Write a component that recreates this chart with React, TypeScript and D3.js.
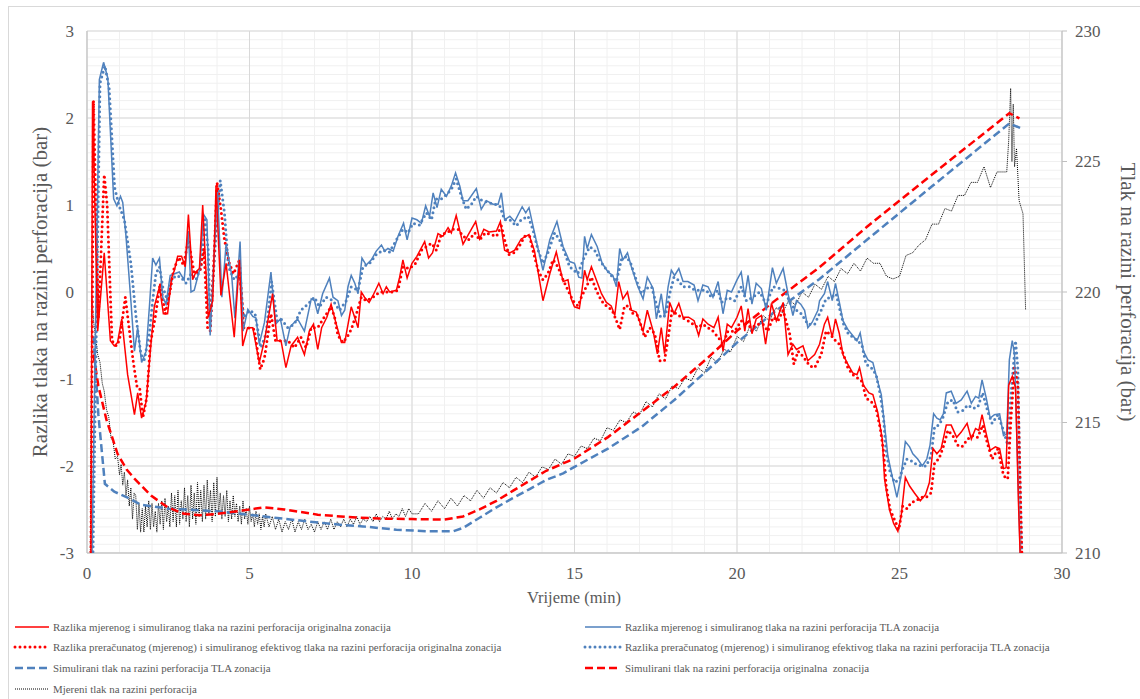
import React from 'react';
import * as d3 from 'd3';

type Pt = [number, number];

// time (min), pressure difference (bar) - left axis
const redSolidDiff: Pt[] = [
  [0.12,-3.1],[0.17,2.19],[0.33,-0.45],[0.53,0.45],[0.72,-0.56],[0.84,-0.62],[0.94,-0.58],[1.07,-0.31],[1.25,-0.95],[1.46,-1.41],[1.56,-1.16],[1.68,-1.45],[1.82,-1.26],[1.94,-0.72],[2.07,-0.17],[2.23,0.06],[2.35,-0.25],[2.48,-0.25],[2.6,0.16],[2.69,0.25],[2.79,0.41],[2.91,0.41],[3.02,0.29],[3.12,0.89],[3.25,0.14],[3.35,0.23],[3.46,0.27],[3.56,1.0],[3.73,-0.29],[3.87,-0.1],[3.97,1.22],[4.12,-0.04],[4.28,0.33],[4.53,-0.52],[4.69,0.37],[4.79,-0.62],[4.94,-0.41],[5.1,-0.41],[5.3,-0.81],[5.46,-0.56],[5.71,-0.02],[5.85,-0.56],[5.97,-0.56],[6.12,-0.87],[6.28,-0.62],[6.48,-0.52],[6.69,-0.72],[6.84,-0.45],[6.97,-0.37],[7.1,-0.66],[7.22,-0.41],[7.38,-0.29],[7.51,-0.14],
  [7.67,-0.37],[7.83,-0.58],[7.93,-0.58],[8.13,-0.17],[8.34,-0.41],[8.44,0],[8.54,-0.06],[8.68,-0.12],[8.8,-0.04],[8.98,0.1],[9.11,-0.02],[9.21,0.06],[9.31,0],[9.52,0.02],[9.62,0.17],[9.72,0.37],[9.85,0.16],[10.0,0.33],[10.15,0.41],[10.39,0.58],[10.51,0.39],[10.63,0.45],[10.8,0.67],[10.95,0.64],[11.11,0.74],[11.21,0.68],[11.36,0.88],[11.57,0.55],[11.72,0.65],[11.96,0.81],[12.08,0.61],[12.21,0.72],[12.37,0.69],[12.6,0.7],[12.72,0.81],[12.85,0.48],[13.01,0.45],[13.16,0.48],[13.36,0.61],[13.6,0.66],[13.77,0.47],[14.03,-0.1],[14.24,0.21],[14.44,0.46],[14.65,0.12],[14.8,0.14],[14.9,-0.08],
  [15.0,-0.17],[15.15,-0.19],[15.23,0.02],[15.31,0.25],[15.39,0.14],[15.52,0.29],[15.67,0.14],[15.83,-0.02],[15.98,-0.12],[16.13,-0.16],[16.24,-0.27],[16.36,0.12],[16.49,-0.08],[16.63,0],[16.75,-0.21],[16.9,-0.23],[17.11,-0.45],[17.24,-0.21],[17.42,-0.45],[17.55,-0.71],[17.67,-0.41],[17.77,-0.71],[17.93,-0.12],[18.06,-0.25],[18.21,-0.13],[18.34,-0.29],[18.51,-0.29],[18.68,-0.33],[18.82,-0.5],[18.95,-0.31],[19.11,-0.37],[19.29,-0.41],[19.42,-0.29],[19.57,-0.68],[19.7,-0.37],[19.83,-0.41],[20.0,-0.29],[20.13,-0.16],[20.24,-0.45],[20.34,-0.19],[20.46,-0.48],[20.59,-0.31],[20.75,-0.27],[20.88,-0.6],[21.06,-0.13],[21.21,-0.33],[21.42,-0.12],[21.57,-0.72],[21.72,-0.6],[21.83,-0.66],[22.03,-0.62],[22.18,-0.79],[22.39,-0.72],
  [22.54,-0.6],[22.69,-0.37],[22.79,-0.29],[22.93,-0.52],[23.03,-0.31],[23.15,-0.48],[23.26,-0.72],[23.41,-0.83],[23.56,-0.93],[23.69,-0.95],[23.77,-0.87],[23.89,-1.07],[24.06,-1.16],[24.18,-1.18],[24.33,-1.38],[24.47,-1.69],[24.54,-2.15],[24.69,-2.5],[24.82,-2.66],[24.95,-2.75],[25.05,-2.58],[25.18,-2.13],[25.31,-2.23],[25.46,-2.31],[25.64,-2.4],[25.8,-2.33],[25.92,-2.19],[26.03,-1.8],[26.15,-1.86],[26.28,-1.8],[26.44,-1.53],[26.59,-1.53],[26.76,-1.67],[26.9,-1.61],[27.08,-1.51],[27.21,-1.69],[27.34,-1.57],[27.44,-1.59],[27.54,-1.41],[27.67,-1.63],[27.79,-1.82],[27.95,-1.78],[28.08,-1.8],[28.2,-2.03],[28.28,-2.02],[28.36,-1.07],[28.47,-0.97],[28.57,-1.1],[28.66,-2.42],[28.72,-3.1],
];

const blueSolidDiff: Pt[] = [
  [0.15,-3.1],[0.38,2.44],[0.51,2.64],[0.64,2.46],[0.82,1.07],[0.92,0.99],[1.03,1.1],[1.1,1.03],[1.2,0.64],[1.35,-0.1],[1.46,-0.68],[1.56,-0.41],[1.68,-0.81],[1.82,-0.68],[1.92,-0.17],[2.02,0.39],[2.12,0.31],[2.23,0.39],[2.33,-0.06],[2.43,-0.14],[2.56,0.19],[2.69,0.21],[2.84,0.23],[2.99,0.14],[3.12,0.7],[3.2,0],[3.3,0.02],[3.46,0.25],[3.59,0.89],[3.69,0.83],[3.79,-0.5],[3.92,0.5],[4.02,1.15],[4.15,-0.06],[4.28,0.55],[4.45,0.2],[4.55,-0.3],[4.71,0.58],[4.8,-0.45],[4.95,-0.2],[5.1,-0.28],[5.2,-0.3],[5.3,-0.6],[5.46,-0.35],[5.66,0.23],[5.8,-0.37],[5.95,-0.31],[6.12,-0.62],[6.25,-0.4],[6.48,-0.31],[6.69,-0.45],[6.9,-0.08],[7.0,-0.1],[7.1,-0.25],[7.25,-0.02],[7.46,0.16],
  [7.57,-0.06],[7.72,-0.1],[7.83,-0.27],[7.93,-0.21],[8.03,0.06],[8.13,0.19],[8.24,0.1],[8.34,-0.02],[8.46,0.39],[8.59,0.31],[8.75,0.37],[8.9,0.47],[9.06,0.54],[9.16,0.47],[9.26,0.5],[9.42,0.47],[9.57,0.64],[9.74,0.79],[9.85,0.6],[10.0,0.85],[10.15,0.83],[10.29,0.79],[10.42,0.99],[10.54,0.87],[10.65,1.14],[10.77,0.97],[10.9,1.18],[11.06,1.1],[11.21,1.22],[11.34,1.37],[11.47,1.22],[11.57,1.05],[11.72,1.05],[11.98,1.19],[12.13,0.95],[12.29,1.05],[12.49,1.01],[12.65,1.01],[12.75,1.14],[12.85,0.83],[13.01,0.87],[13.16,0.81],[13.39,0.98],[13.5,0.91],[13.6,0.97],[13.77,0.68],[14.03,0.25],[14.24,0.6],[14.46,0.81],[14.65,0.52],[14.85,0.35],
  [15.0,0.33],[15.13,0.17],[15.23,0.16],[15.31,0.64],[15.39,0.5],[15.52,0.66],[15.7,0.52],[15.85,0.33],[16.03,0.23],[16.18,0.19],[16.29,0.06],[16.39,0.5],[16.49,0.37],[16.63,0.45],[16.75,0.29],[16.93,0.08],[17.11,-0.08],[17.24,0.17],[17.42,0.04],[17.52,-0.31],[17.67,-0.02],[17.77,-0.29],[17.88,0.06],[17.98,0.25],[18.08,0.19],[18.21,0.27],[18.34,0.12],[18.49,0.12],[18.68,0.08],[18.8,-0.1],[18.95,0.08],[19.11,0.06],[19.26,-0.06],[19.42,0.12],[19.57,-0.25],[19.7,0.02],[19.83,0],[20.0,0.14],[20.13,0.23],[20.24,-0.06],[20.34,0.19],[20.46,-0.14],[20.59,0.1],[20.75,0.04],[20.9,-0.21],[21.09,0.28],[21.21,0.1],[21.42,0.27],[21.57,-0.02],[21.72,-0.27],[21.83,-0.1],[21.96,-0.14],[22.08,-0.21],[22.18,-0.41],[22.31,-0.35],[22.49,-0.21],
  [22.54,-0.1],[22.69,-0.02],[22.79,0.12],[22.93,-0.1],[23.03,0.1],[23.15,-0.12],[23.26,-0.33],[23.41,-0.43],[23.56,-0.5],[23.69,-0.56],[23.79,-0.47],[23.89,-0.68],[24.03,-0.78],[24.18,-0.81],[24.33,-1.03],[24.44,-1.18],[24.54,-1.53],[24.64,-1.88],[24.77,-2.11],[24.92,-2.36],[25.05,-2.11],[25.18,-1.72],[25.31,-1.78],[25.41,-1.86],[25.56,-1.92],[25.7,-2.0],[25.84,-1.92],[25.94,-1.76],[26.05,-1.4],[26.15,-1.45],[26.25,-1.47],[26.35,-1.4],[26.44,-1.16],[26.59,-1.14],[26.74,-1.28],[26.9,-1.24],[27.08,-1.14],[27.21,-1.28],[27.34,-1.2],[27.44,-1.22],[27.54,-1.01],[27.67,-1.22],[27.79,-1.45],[27.92,-1.41],[28.08,-1.4],[28.2,-1.65],[28.3,-1.63],[28.38,-0.78],[28.47,-0.56],[28.54,-0.72],[28.64,-2.03],[28.72,-3.1],
];

const redDottedDiff: Pt[] = [
  [0.12,-3.1],[0.2,2.2],[0.35,-0.3],[0.53,1.35],[0.62,1.0],[0.77,-0.56],[0.9,-0.62],[1.0,-0.55],[1.18,-0.06],[1.33,-0.52],[1.43,-0.82],[1.54,-1.09],[1.62,-1.1],[1.72,-1.44],[1.84,-1.21],[1.95,-0.59],[2.1,-0.29],[2.25,0.1],[2.41,-0.25],[2.56,0.02],[2.66,0.25],[2.82,0.4],[2.97,0.31],[3.12,0.6],[3.3,0.21],[3.48,0.25],[3.6,0.5],[3.71,-0.41],[3.79,-0.45],[3.92,0.48],[4.0,1.26],[4.12,0.95],[4.23,0.6],[4.38,0.33],[4.51,0.21],[4.69,0.37],[4.82,-0.41],[4.94,-0.41],[5.15,-0.43],[5.33,-0.89],[5.46,-0.76],[5.66,-0.25],[5.8,-0.56],[5.97,-0.56],[6.18,-0.56],[6.38,-0.64],[6.58,-0.52],[6.74,-0.64],[6.9,-0.41],[7.1,-0.41],[7.3,-0.29],[7.51,-0.17],
  [7.62,-0.29],[7.72,-0.5],[7.88,-0.58],[8.03,-0.5],[8.13,-0.43],[8.29,-0.25],[8.44,-0.06],[8.59,-0.1],[8.8,-0.06],[9.0,0],[9.21,0],[9.42,0],[9.57,0.02],[9.72,0.29],[9.93,0.27],[10.11,0.33],[10.29,0.48],[10.44,0.52],[10.6,0.56],[10.75,0.48],[10.9,0.66],[11.06,0.68],[11.24,0.72],[11.42,0.72],[11.57,0.64],[11.76,0.6],[11.93,0.68],[12.08,0.6],[12.26,0.68],[12.44,0.66],[12.6,0.64],[12.75,0.76],[12.85,0.6],[12.98,0.43],[13.13,0.45],[13.29,0.52],[13.47,0.64],[13.62,0.64],[13.74,0.45],[13.88,0.25],[14.03,0.14],[14.18,0.21],[14.34,0.37],[14.49,0.29],[14.65,0.14],[14.8,0.02],[14.95,-0.1],
  [15.11,-0.16],[15.21,-0.06],[15.36,0.06],[15.52,0.17],[15.67,0.02],[15.83,-0.1],[15.98,-0.16],[16.16,-0.21],[16.29,-0.33],[16.39,-0.43],[16.54,-0.16],[16.67,-0.16],[16.8,-0.25],[16.95,-0.27],[17.16,-0.52],[17.31,-0.41],[17.47,-0.48],[17.62,-0.79],[17.77,-0.79],[17.9,-0.48],[18.0,-0.21],[18.13,-0.25],[18.29,-0.29],[18.49,-0.33],[18.65,-0.37],[18.8,-0.41],[18.95,-0.37],[19.11,-0.41],[19.26,-0.45],[19.42,-0.52],[19.57,-0.6],[19.72,-0.45],[19.93,-0.45],[20.13,-0.33],[20.29,-0.37],[20.44,-0.41],[20.63,-0.37],[20.8,-0.37],[20.95,-0.45],[21.11,-0.29],[21.26,-0.33],[21.42,-0.21],[21.62,-0.48],[21.75,-0.83],[21.88,-0.68],[22.03,-0.74],[22.24,-0.85],[22.39,-0.87],
  [22.59,-0.72],[22.74,-0.45],[22.9,-0.5],[23.03,-0.56],[23.15,-0.6],[23.28,-0.72],[23.41,-0.87],[23.56,-0.95],[23.72,-0.99],[23.85,-1.03],[23.97,-1.22],[24.13,-1.26],[24.28,-1.34],[24.41,-1.57],[24.51,-1.84],[24.59,-2.23],[24.71,-2.5],[24.85,-2.62],[24.98,-2.73],[25.1,-2.46],[25.23,-2.49],[25.36,-2.42],[25.51,-2.4],[25.67,-2.36],[25.82,-2.36],[25.97,-2.31],[26.08,-1.96],[26.21,-1.92],[26.33,-1.8],[26.49,-1.59],[26.64,-1.65],[26.79,-1.76],[26.92,-1.78],[27.1,-1.69],[27.26,-1.65],[27.41,-1.67],[27.56,-1.53],[27.72,-1.76],[27.85,-1.92],[28.03,-1.8],[28.2,-2.11],[28.33,-2.15],[28.43,-1.45],[28.54,-0.87],[28.64,-1.06],[28.7,-2.03],[28.77,-3.1],
];

const blueDottedDiff: Pt[] = [
  [0.18,-3.1],[0.4,2.4],[0.55,2.6],[0.68,2.35],[0.85,1.2],[0.98,1.0],[1.15,0.83],[1.35,0.33],[1.51,-0.29],[1.66,-0.72],[1.76,-0.78],[1.92,-0.48],[2.02,-0.1],[2.12,0.21],[2.23,0.29],[2.33,0.06],[2.48,-0.1],[2.6,0.14],[2.74,0.19],[2.89,0.17],[3.05,0.1],[3.2,0.21],[3.35,0.14],[3.51,0.29],[3.63,0.83],[3.73,0.48],[3.79,-0.41],[3.97,0.68],[4.1,1.28],[4.23,0.91],[4.35,0.29],[4.53,0.14],[4.69,0.21],[4.82,-0.29],[5.0,-0.21],[5.17,-0.25],[5.35,-0.64],[5.51,-0.48],[5.68,0.12],[5.85,-0.33],[5.97,-0.31],[6.18,-0.41],[6.38,-0.37],[6.58,-0.21],[6.79,-0.14],[7.0,-0.06],[7.15,-0.17],[7.36,-0.06],
  [7.57,-0.1],[7.77,-0.21],[7.98,-0.1],[8.13,0.06],[8.34,0.02],[8.49,0.29],[8.7,0.33],[8.9,0.43],[9.11,0.48],[9.31,0.46],[9.52,0.6],[9.72,0.72],[9.88,0.68],[10.03,0.79],[10.23,0.77],[10.44,0.91],[10.6,0.83],[10.73,1.07],[10.9,1.07],[11.06,1.12],[11.21,1.18],[11.36,1.3],[11.52,1.1],[11.67,0.95],[11.83,1.01],[11.98,1.1],[12.16,1.05],[12.34,1.03],[12.54,1.01],[12.7,0.99],[12.85,0.83],[13.01,0.83],[13.21,0.76],[13.36,0.83],[13.57,0.87],[13.72,0.72],[13.88,0.48],[14.03,0.33],[14.18,0.45],[14.39,0.68],[14.54,0.6],[14.7,0.45],[14.85,0.29],
  [15.1,0.21],[15.31,0.41],[15.47,0.52],[15.62,0.48],[15.77,0.37],[15.92,0.29],[16.13,0.19],[16.29,0.12],[16.44,0.37],[16.6,0.41],[16.73,0.33],[16.9,0.14],[17.06,-0.02],[17.21,0.04],[17.37,0.06],[17.52,-0.14],[17.65,-0.29],[17.8,-0.27],[17.93,-0.02],[18.06,0.17],[18.18,0.14],[18.34,0.06],[18.55,0.06],[18.7,0.02],[18.88,0.02],[19.06,0.02],[19.21,-0.06],[19.42,0.02],[19.52,-0.12],[19.72,-0.06],[19.93,-0.1],[20.13,0.06],[20.29,-0.1],[20.49,-0.06],[20.7,0],[20.9,-0.14],[21.11,0.06],[21.32,0.04],[21.47,0.02],[21.65,-0.14],[21.83,-0.21],[21.98,-0.25],[22.18,-0.37],[22.39,-0.37],
  [22.59,-0.21],[22.74,-0.08],[22.9,-0.06],[23.05,-0.02],[23.17,-0.21],[23.28,-0.37],[23.41,-0.47],[23.56,-0.52],[23.72,-0.56],[23.85,-0.62],[23.97,-0.83],[24.13,-0.87],[24.28,-0.95],[24.41,-1.18],[24.51,-1.45],[24.59,-1.84],[24.71,-2.07],[24.85,-2.19],[25.0,-2.15],[25.1,-2.03],[25.23,-1.92],[25.36,-1.94],[25.51,-1.98],[25.67,-2.0],[25.82,-2.0],[25.97,-1.88],[26.08,-1.55],[26.21,-1.53],[26.33,-1.45],[26.49,-1.26],[26.64,-1.24],[26.79,-1.38],[26.95,-1.36],[27.1,-1.3],[27.26,-1.34],[27.41,-1.32],[27.56,-1.16],[27.72,-1.38],[27.85,-1.51],[28.03,-1.41],[28.18,-1.57],[28.33,-1.76],[28.43,-1.18],[28.57,-0.56],[28.64,-0.87],[28.7,-2.03],[28.77,-3.1],
];

// time (min), pressure (bar) - right axis
const blueDashedSim: Pt[] = [
  [0.2,218.3],[0.35,215.3],[0.55,212.65],[0.84,212.35],[1.25,212.12],[1.66,211.85],[2.5,211.7],[4.0,211.6],[5.03,211.46],[5.85,211.34],[6.87,211.2],[7.9,211.07],[8.49,211.02],[9.52,210.89],[10.54,210.83],[11.26,210.83],[11.57,210.96],[12.08,211.35],[12.6,211.75],[13.1,212.1],[13.62,212.45],[14.13,212.8],[14.65,213.05],[15.0,213.3],[16.03,214.0],[17.06,214.83],[18.08,215.87],[19.11,217.03],[20.0,218.06],[21.16,219.25],[22.54,220.5],[24.0,222.0],[26.0,224.05],[28.38,226.46],[28.74,226.27],
];

const redDashedSim: Pt[] = [
  [0.2,217.6],[0.35,216.4],[0.6,215.1],[0.94,213.8],[1.22,213.2],[1.46,212.85],[1.97,212.2],[2.48,211.75],[2.99,211.5],[3.48,211.45],[4.02,211.5],[4.74,211.62],[5.46,211.75],[6.07,211.67],[7.1,211.47],[8.0,211.38],[9.0,211.32],[10.0,211.3],[11.0,211.28],[11.57,211.4],[12.08,211.67],[12.6,212.0],[13.1,212.38],[13.62,212.77],[14.13,213.15],[15.0,213.62],[16.03,214.44],[17.06,215.41],[18.08,216.38],[19.1,217.48],[20.0,218.51],[21.16,219.66],[22.54,220.95],[24.0,222.5],[26.0,224.5],[28.38,226.85],[28.69,226.65],
];

// measured pressure: start, logged segments (start, step, values), end
const measuredStart: Pt[] = [
  [0.1,209.5],[0.15,219.8],[0.2,218.9],[0.27,218.2],[0.33,217.6],[0.4,217.3],[0.47,216.5],[0.53,216.2],[0.6,215.5],[0.67,215.2],[0.74,214.4],[0.8,214.3],[0.87,213.6],[0.94,213.7],[1.0,213.0],[1.05,213.4],[1.1,212.6],[1.15,213.1],[1.2,212.2],[1.25,212.8],[1.3,211.8],[1.35,212.5],[1.4,211.3],[1.45,212.3],
];
const measuredA = { t0: 1.5, step: 0.05, values: [
  212.2,210.9,211.9,210.8,211.7,210.8,211.8,211.0,212.0,210.9,211.9,211.0,211.6,210.8,211.9,211.1,212.0,210.9,212.1,211.2,
  211.8,211.0,212.3,211.2,212.2,211.0,212.4,211.1,212.0,211.3,212.5,211.2,212.2,211.0,212.6,211.3,212.3,211.1,212.7,211.4,
  212.4,211.2,212.6,211.3,212.8,211.5,212.4,211.2,212.7,211.4,212.9,211.5,212.3,211.3,212.2,211.4,212.4,211.2,212.0,211.3,
  212.2,211.4,211.9,211.2,211.8,211.1,212.0,211.3,211.7,211.1,211.8,211.2,211.5,211.0,211.6,211.1,211.5,210.9,211.4,211.0,211.5,
] };
const measuredB = { t0: 5.6, step: 0.1, values: [
  211.0,211.4,210.9,211.3,210.8,211.2,210.9,211.3,210.8,211.2,210.9,211.3,210.9,211.1,210.8,211.2,210.9,211.2,210.9,211.3,
  210.9,211.2,211.0,211.3,211.0,211.3,211.1,211.4,211.1,211.3,211.2,211.4,211.2,211.5,211.2,211.4,211.3,211.6,211.3,211.5,
  211.4,211.7,211.4,211.7,211.5,
] };
const measuredC = { t0: 10.2, step: 0.2, values: [
  211.5,211.9,211.6,212.0,211.7,212.1,211.8,212.2,212.0,212.4,212.1,212.5,212.3,212.7,212.5,212.9,212.7,213.1,212.9,213.3,
  213.2,213.6,213.4,213.8,213.7,214.1,214.0,214.4,214.3,214.8,214.7,215.1,215.0,215.4,215.3,215.8,215.6,216.1,215.9,216.4,
  216.3,216.7,216.6,217.1,216.9,217.5,217.3,217.8,217.7,218.3,218.1,218.7,218.5,219.1,218.9,219.4,219.2,219.7,219.5,220.0,
  219.8,220.3,220.1,220.6,220.4,220.9,220.7,221.1,220.8,221.3,221.1,221.1,220.6,220.5,220.6,221.4,221.5,221.8,222.0,222.6,
  222.6,223.2,223.1,223.7,223.7,224.2,224.2,224.8,224.0,224.6,224.6,
] };
const measuredEnd: Pt[] = [
  [28.3,224.6],[28.36,225.8],[28.42,227.8],[28.46,225.0],[28.5,227.2],[28.54,224.8],[28.6,225.5],[28.68,223.5],[28.8,223.0],[28.88,219.3],
];

const xTicks = [0, 5, 10, 15, 20, 25, 30];
const leftTicks = [-3, -2, -1, 0, 1, 2, 3];
const rightTicks = [210, 215, 220, 225, 230];

const legendLabels = [
  'Razlika mjerenog i simuliranog tlaka na razini perforacija originalna zonacija',
  'Razlika mjerenog i simuliranog tlaka na razini perforacija TLA zonacija',
  'Razlika preračunatog (mjerenog) i simuliranog efektivog tlaka na razini perforacija originalna zonacija',
  'Razlika preračunatog (mjerenog) i simuliranog efektivog tlaka na razini perforacija TLA zonacija',
  'Simulirani tlak na razini perforacija TLA zonacija',
  'Simulirani tlak na razini perforacija originalna  zonacija',
  'Mjereni tlak na razini perforacija',
];

const RED = '#ff0000';
const BLUE = '#4f81bd';
const TEXT = '#595959';
const FONT = "'Liberation Serif', 'Times New Roman', 'DejaVu Serif', serif";

const seg = (s: { t0: number; step: number; values: number[] }): Pt[] =>
  s.values.map((v, i) => [+(s.t0 + i * s.step).toFixed(3), v]);

export default function App() {
  const width = 1140;
  const height = 699;
  const m = { left: 87, right: 1062, top: 31, bottom: 553 };

  const x = d3.scaleLinear().domain([0, 30]).range([m.left, m.right]);
  const yL = d3.scaleLinear().domain([-3, 3]).range([m.bottom, m.top]);
  const yR = d3.scaleLinear().domain([210, 230]).range([m.bottom, m.top]);

  const lineL = d3.line<Pt>().x((d) => x(d[0])).y((d) => yL(d[1]));
  const lineR = d3.line<Pt>().x((d) => x(d[0])).y((d) => yR(d[1]));

  const measured = [...measuredStart, ...seg(measuredA), ...seg(measuredB), ...seg(measuredC), ...measuredEnd];

  const minorY = d3.range(-30, 31).map((i) => i / 10);
  const minorX = d3.range(0, 31);

  const styles = {
    redSolid: { stroke: RED, strokeWidth: 1.5, fill: 'none' },
    blueSolid: { stroke: BLUE, strokeWidth: 1.5, fill: 'none' },
    redDot: { stroke: RED, strokeWidth: 3, fill: 'none', strokeDasharray: '0 5', strokeLinecap: 'round' as const },
    blueDot: { stroke: BLUE, strokeWidth: 3, fill: 'none', strokeDasharray: '0 5', strokeLinecap: 'round' as const },
    blueDash: { stroke: BLUE, strokeWidth: 2.5, fill: 'none', strokeDasharray: '8 4' },
    redDash: { stroke: RED, strokeWidth: 2.5, fill: 'none', strokeDasharray: '8 4' },
    black: { stroke: '#000', strokeWidth: 1, fill: 'none', strokeDasharray: '1 1' },
  };

  const legendRows = [627, 647, 668, 689];
  const legend = [
    { col: 0, row: 0, st: styles.redSolid },
    { col: 1, row: 0, st: styles.blueSolid },
    { col: 0, row: 1, st: styles.redDot },
    { col: 1, row: 1, st: styles.blueDot },
    { col: 0, row: 2, st: styles.blueDash },
    { col: 1, row: 2, st: styles.redDash },
    { col: 0, row: 3, st: styles.black },
  ];
  const legendCols = [
    { x1: 15, x2: 49, tx: 53 },
    { x1: 585, x2: 621, tx: 625 },
  ];

  const txt = { fontFamily: FONT, fill: TEXT };

  return (
    <svg width={width} height={height} style={{ position: 'absolute', left: 0, top: 0, background: '#fff', fontFamily: FONT }}>
      <defs>
        <clipPath id="plotClip">
          <rect x={m.left} y={m.top} width={m.right - m.left} height={m.bottom - m.top} />
        </clipPath>
      </defs>
      <rect x={8.5} y={6.5} width={1140} height={710} fill="#fff" stroke="#d9d9d9" />

      {/* minor grid */}
      {minorY.map((v) => (
        <line key={'my' + v} x1={m.left} x2={m.right} y1={yL(v)} y2={yL(v)} stroke="#f0f0f0" />
      ))}
      {minorX.map((t) => (
        <line key={'mx' + t} x1={x(t)} x2={x(t)} y1={m.top} y2={m.bottom} stroke="#f0f0f0" />
      ))}
      {/* major grid */}
      {leftTicks.map((v) => (
        <line key={'gy' + v} x1={m.left} x2={m.right} y1={yL(v)} y2={yL(v)} stroke="#d9d9d9" />
      ))}
      {xTicks.map((t) => (
        <line key={'gx' + t} x1={x(t)} x2={x(t)} y1={m.top} y2={m.bottom} stroke="#d9d9d9" />
      ))}
      {/* axis lines */}
      <line x1={m.left} x2={m.left} y1={m.top} y2={m.bottom} stroke="#bfbfbf" />
      <line x1={m.left} x2={m.right} y1={m.bottom} y2={m.bottom} stroke="#bfbfbf" />
      <line x1={m.right} x2={m.right} y1={m.top} y2={m.bottom} stroke="#bfbfbf" />
      {rightTicks.map((p) => (
        <line key={'rt' + p} x1={m.right} x2={m.right + 5} y1={yR(p)} y2={yR(p)} stroke="#bfbfbf" />
      ))}

      {/* series */}
      <g clipPath="url(#plotClip)">
        <path d={lineR(measured) || ''} {...styles.black} />
        <path d={lineR(blueDashedSim) || ''} {...styles.blueDash} />
        <path d={lineR(redDashedSim) || ''} {...styles.redDash} />
        <path d={lineL(blueDottedDiff) || ''} {...styles.blueDot} />
        <path d={lineL(redDottedDiff) || ''} {...styles.redDot} />
        <path d={lineL(blueSolidDiff) || ''} {...styles.blueSolid} />
        <path d={lineL(redSolidDiff) || ''} {...styles.redSolid} />
      </g>

      {/* tick labels */}
      {leftTicks.map((v) => (
        <text key={'lt' + v} x={m.left - 13} y={yL(v)} textAnchor="end" dominantBaseline="central" fontSize={17} style={txt}>
          {v}
        </text>
      ))}
      {rightTicks.map((p) => (
        <text key={'rl' + p} x={m.right + 13} y={yR(p)} textAnchor="start" dominantBaseline="central" fontSize={17} style={txt}>
          {p}
        </text>
      ))}
      {xTicks.map((t) => (
        <text key={'xt' + t} x={x(t)} y={m.bottom + 20} textAnchor="middle" dominantBaseline="central" fontSize={17} style={txt}>
          {t}
        </text>
      ))}

      {/* axis titles */}
      <text x={574} y={597} textAnchor="middle" dominantBaseline="central" fontSize={16.5} style={txt}>
        Vrijeme (min)
      </text>
      <text transform={`translate(40,${(m.top + m.bottom) / 2}) rotate(-90)`} textAnchor="middle" dominantBaseline="central" fontSize={21} style={txt}>
        Razlika tlaka na razini perforacija (bar)
      </text>
      <text transform={`translate(1128,${(m.top + m.bottom) / 2}) rotate(90)`} textAnchor="middle" dominantBaseline="central" fontSize={21} style={txt}>
        Tlak na razini perforacija (bar)
      </text>

      {/* legend */}
      {legend.map((l, i) => {
        const c = legendCols[l.col];
        const y = legendRows[l.row];
        return (
          <g key={'lg' + i}>
            <line x1={c.x1} x2={c.x2} y1={y} y2={y} {...l.st} />
            <text x={c.tx} y={y} dominantBaseline="central" fontSize={10.9} style={{ ...txt, whiteSpace: 'pre' }}>
              {legendLabels[i]}
            </text>
          </g>
        );
      })}
    </svg>
  );
}
